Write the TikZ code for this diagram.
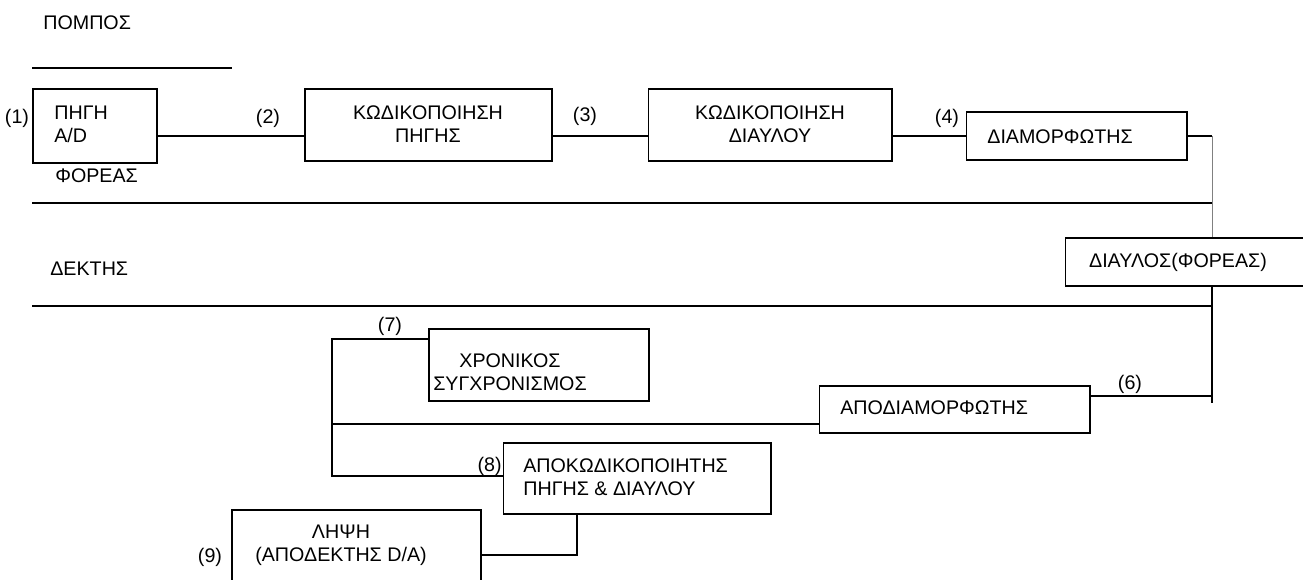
\documentclass[tikz,border=0pt]{standalone}
\usepackage{fontspec}
\setmainfont{Liberation Sans}
\usepackage{tikz}
\usetikzlibrary{positioning}

\tikzset{
  blk/.style={draw, line width=0.6pt, inner sep=0pt},
  lbl/.style={inner sep=0pt, font=\fontsize{11.2}{13}\selectfont},
  wire/.style={line width=0.6pt},
}

\begin{document}
\begin{tikzpicture}[x=0.02cm, y=-0.02cm]
  \useasboundingbox (0,0) rectangle (1303,579);

  % Transmitter side
  \node[lbl, anchor=base west] (pompos) at (43,29) {ΠΟΜΠΟΣ};
  \draw[wire] (32,68) -- (232,68);

  \node[blk, minimum width=2.48cm, minimum height=1.48cm] (src) at (95,126) {};
  \node[lbl, anchor=west, align=left] (srctxt) at (54,124) {ΠΗΓΗ\\A/D};
  \node[lbl] (n1) at (17,118) {(1)};
  \node[lbl, anchor=base west] (foreas) at (55,182) {ΦΟΡΕΑΣ};

  \node[blk, minimum width=4.94cm, minimum height=1.44cm] (srcenc) at (428.5,125) {};
  \node[lbl, align=center] (srcenctxt) at (428,124) {ΚΩΔΙΚΟΠΟΙΗΣΗ\\ΠΗΓΗΣ};
  \node[lbl] (n2) at (268,118) {(2)};

  \node[blk, minimum width=4.88cm, minimum height=1.44cm] (chenc) at (770,125) {};
  \node[lbl, align=center] (chenctxt) at (770,124) {ΚΩΔΙΚΟΠΟΙΗΣΗ\\ΔΙΑΥΛΟΥ};
  \node[lbl] (n3) at (585,116) {(3)};

  \node[blk, minimum width=4.42cm, minimum height=0.96cm] (mod) at (1076.5,136) {};
  \node[lbl, anchor=base west] (modtxt) at (987,143) {ΔΙΑΜΟΡΦΩΤΗΣ};
  \node[lbl] (n4) at (947,118) {(4)};

  % Band between transmitter and receiver
  \draw[wire] (32,203) -- (1212,203);
  \draw[wire] (32,306) -- (1212,306);
  \node[lbl, anchor=base west] (dektis) at (50,275) {ΔΕΚΤΗΣ};

  \node[blk, minimum width=5.10cm, minimum height=0.96cm] (chan) at (1192.5,262) {};
  \node[lbl] (chantxt) at (1178,262) {ΔΙΑΥΛΟΣ(ΦΟΡΕΑΣ)};

  % Receiver side
  \node[blk, minimum width=5.42cm, minimum height=0.94cm] (demod) at (954.5,409.5) {};
  \node[lbl, anchor=base west] (demodtxt) at (840,414) {ΑΠΟΔΙΑΜΟΡΦΩΤΗΣ};
  \node[lbl] (n6) at (1130,384) {(6)};

  \node[blk, minimum width=4.40cm, minimum height=1.44cm] (sync) at (539,365) {};
  \node[lbl, align=center] (synctxt) at (510,372) {ΧΡΟΝΙΚΟΣ\\ΣΥΓΧΡΟΝΙΣΜΟΣ};
  \node[lbl] (n7) at (390,326) {(7)};

  \node[blk, minimum width=5.36cm, minimum height=1.42cm] (dec) at (637,478.5) {};
  \node[lbl, anchor=west, align=left] (dectxt) at (523,477) {ΑΠΟΚΩΔΙΚΟΠΟΙΗΤΗΣ\\ΠΗΓΗΣ \& ΔΙΑΥΛΟΥ};
  \node[lbl, anchor=east] (n8) at (502,466) {(8)};

  \node[blk, minimum width=4.98cm, minimum height=2.2cm] (rx) at (356.5,565) {};
  \node[lbl, align=center] (rxtxt) at (341,545) {ΛΗΨΗ\\(ΑΠΟΔΕΚΤΗΣ D/A)};
  \node[lbl] (n9) at (210,557) {(9)};

  % Connections
  \coordinate (row) at (0,136);
  \coordinate (tap) at (1212,0);
  \coordinate (bus) at (332,0);
  \coordinate (drop) at (577,0);
  \draw[wire] (src.east |- row) -- (srcenc.west |- row);
  \draw[wire] (srcenc.east |- row) -- (chenc.west |- row);
  \draw[wire] (chenc.east |- row) -- (mod.west |- row);
  \draw[wire] (mod.east) -- (tap |- mod.east);
  \draw[line width=0.4pt, gray] (tap |- mod.east) -- (chan.north -| tap);
  \draw[wire] (chan.south -| tap) -- (tap |- 0,403);
  \draw[wire] (demod.east |- 0,396) -- (tap |- 0,396);
  \draw[wire] (sync.west |- 0,339) -- (bus |- 0,339) -- (bus |- 0,476) -- (dec.west |- 0,476);
  \draw[wire] (bus |- 0,424) -- (demod.west |- 0,424);
  \draw[wire] (drop |- dec.south) -- (drop |- 0,555) -- (rx.east |- 0,555);
\end{tikzpicture}
\end{document}
